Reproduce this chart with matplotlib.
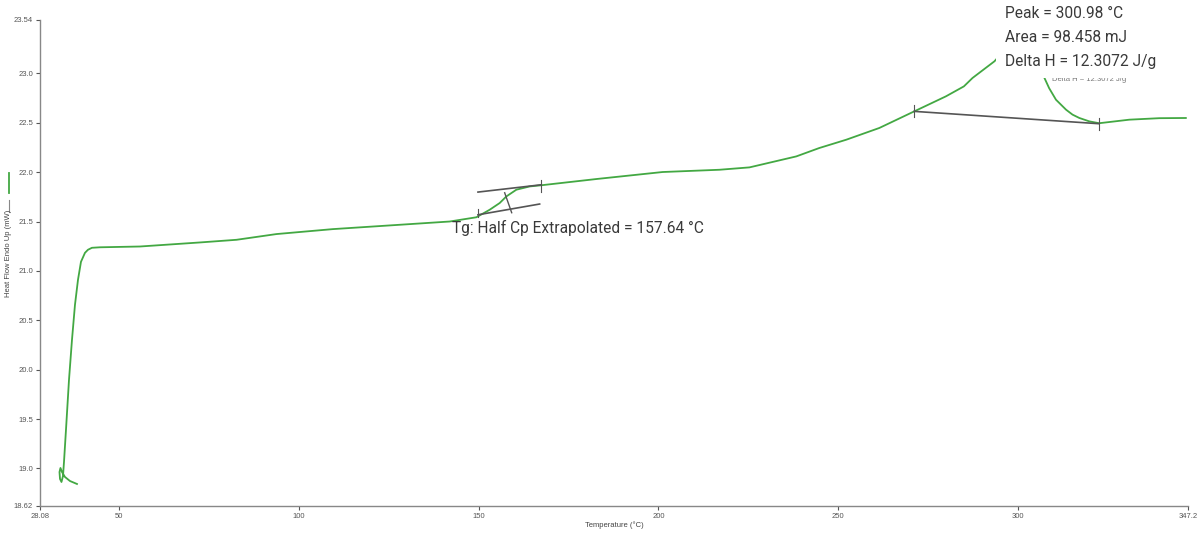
import matplotlib.pyplot as plt
from matplotlib.lines import Line2D
from matplotlib.patches import Rectangle

# DSC heat flow trace (temperature in degC, heat flow in mW)
temperature = [38.36, 36.41, 35.02, 34.19, 33.77, 33.50, 33.64, 34.05, 34.47, 34.75,
               35.30, 36.14, 36.97, 37.80, 38.64, 39.47, 40.58, 41.41, 42.52, 44.75, 55.86,
               72.52, 82.72, 93.83, 109.47, 128.08, 141.97, 149.39, 153.08, 155.86, 157.72,
               160.5, 164.19, 167.44, 182.72, 201.14, 216.97, 225.3, 238.3, 244.7, 252.2, 261.4,
               271.1, 279.9, 284.9, 287.3, 293.4, 297.5, 300.98, 304.5, 307.3, 308.6, 310.5,
               313.3, 315.1, 317.0, 319.75, 322.5, 330.9, 339.2, 346.6]
heat_flow = [18.843, 18.873, 18.914, 18.964, 19.005, 18.964, 18.894, 18.863, 18.924, 19.066,
             19.390, 19.897, 20.302, 20.656, 20.910, 21.092, 21.183, 21.214, 21.234, 21.239, 21.247,
             21.288, 21.315, 21.373, 21.423, 21.467, 21.500, 21.543, 21.619, 21.687, 21.754,
             21.822, 21.855, 21.867, 21.930, 22.001, 22.024, 22.048, 22.159, 22.244, 22.328, 22.447,
             22.615, 22.767, 22.868, 22.953, 23.122, 23.29, 23.36, 23.19, 22.953, 22.85, 22.733,
             22.632, 22.582, 22.548, 22.514, 22.495, 22.531, 22.546, 22.548]

# Tg construction lines
tg_upper_x = [149.83, 167.44]
tg_upper_y = [21.798, 21.872]
tg_lower_x = [149.83, 166.97]
tg_lower_y = [21.568, 21.677]
tg_half_x = [157.25, 159.2]
tg_half_y = [21.791, 21.589]

# peak baseline
peak_base_x = [271.1, 322.5]
peak_base_y = [22.615, 22.490]

x_ticks = [28.08, 50, 100, 150, 200, 250, 300, 347.2]
x_tick_labels = ['28.08', '50', '100', '150', '200', '250', '300', '347.2']
y_ticks = [18.62, 19.0, 19.5, 20.0, 20.5, 21.0, 21.5, 22.0, 22.5, 23.0, 23.54]
y_tick_labels = ['18.62', '19.0', '19.5', '20.0', '20.5', '21.0', '21.5', '22.0', '22.5', '23.0', '23.54']

tg_label = 'Tg: Half Cp Extrapolated = 157.64 °C'
peak_lines = ['Peak = 300.98 °C', 'Area = 98.458 mJ', 'Delta H = 12.3072 J/g']

green = '#43a843'
dark = '#555555'

fig = plt.figure(figsize=(12, 5.33), dpi=100)
ax = fig.add_axes([40 / 1200, 27 / 533, 1148 / 1200, 486 / 533])

ax.plot(temperature, heat_flow, color=green, lw=1.3, zorder=2)

ax.plot(tg_upper_x, tg_upper_y, color=dark, lw=1.2, zorder=2)
ax.plot(tg_lower_x, tg_lower_y, color=dark, lw=1.2, zorder=2)
ax.plot(tg_half_x, tg_half_y, color=dark, lw=1.0, zorder=2)
ax.plot([tg_lower_x[0]] * 2, [tg_lower_y[0] - 0.02, tg_lower_y[0] + 0.06], color=dark, lw=0.8)
ax.plot([tg_upper_x[1]] * 2, [tg_upper_y[1] - 0.07, tg_upper_y[1] + 0.05], color=dark, lw=0.8)

ax.plot(peak_base_x, peak_base_y, color=dark, lw=1.2, zorder=2)
for px, py in zip(peak_base_x, peak_base_y):
    ax.plot([px, px], [py - 0.06, py + 0.06], color=dark, lw=0.8)

# small original label, partly hidden under the box
ax.text(309.5, 22.935, 'Delta H = 12.3072 J/g', fontsize=5.5, color='#777777',
        va='center', ha='left', family='Liberation Sans', zorder=2)

# white box behind the big peak annotation
ax.add_patch(Rectangle((293.9, 22.952), 48, 0.9, facecolor='white', edgecolor='none',
                       zorder=3, clip_on=False))
for i, line in enumerate(peak_lines):
    ax.text(296.4, 23.605 - i * 0.243, line, fontsize=11.2, color='#3a3a3a', family='Roboto',
            va='center', ha='left', zorder=4, clip_on=False)

ax.text(142.5, 21.43, tg_label, fontsize=11.2, color='#3a3a3a', family='Roboto',
        va='center', ha='left', zorder=4)

ax.set_xlim(28.08, 347.2)
ax.set_ylim(18.62, 23.54)
ax.set_xticks(x_ticks)
ax.set_xticklabels(x_tick_labels)
ax.set_yticks(y_ticks)
ax.set_yticklabels(y_tick_labels)
ax.tick_params(labelsize=5.5, colors='#555555', length=3, width=0.8, pad=2)
for lbl in ax.get_xticklabels() + ax.get_yticklabels():
    lbl.set_family('Liberation Sans')
for s in ['top', 'right']:
    ax.spines[s].set_visible(False)
for s in ['left', 'bottom']:
    ax.spines[s].set_color('#888888')
    ax.spines[s].set_linewidth(1.0)

ax.set_xlabel('Temperature (°C)', fontsize=5.5, color='#444444', family='Liberation Sans', labelpad=1)

# y label with the series key marks
fig.text(9 / 1200, 1 - 253 / 533, 'Heat Flow Endo Up (mW)', rotation=90, fontsize=5.5,
         color='#444444', family='Liberation Sans', ha='center', va='center')
fig.add_artist(Line2D([9 / 1200, 9 / 1200], [1 - 212 / 533, 1 - 200 / 533], color='#888888', lw=0.8))
fig.add_artist(Line2D([9 / 1200, 9 / 1200], [1 - 193 / 533, 1 - 173 / 533], color=green, lw=1.3))

fig.savefig('out.png', dpi=100)
